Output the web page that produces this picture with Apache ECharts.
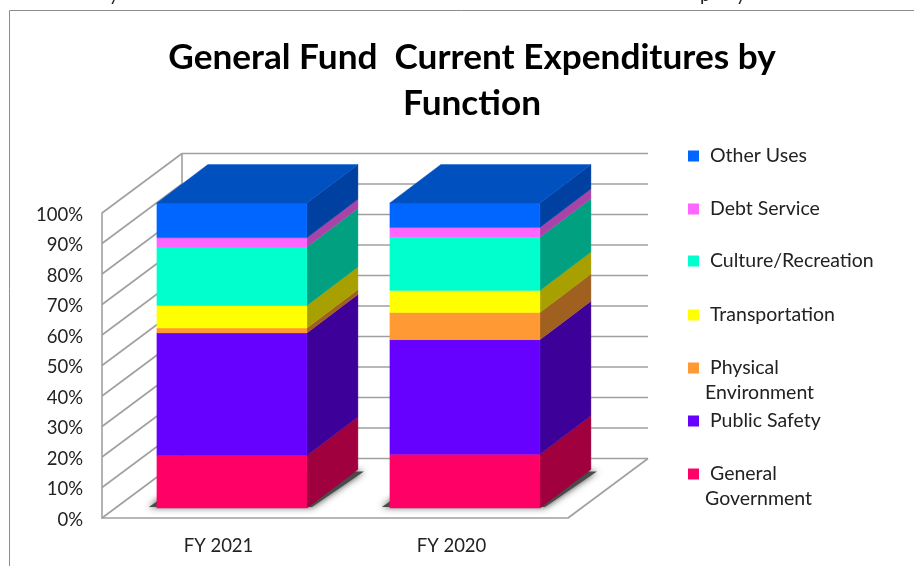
<!DOCTYPE html>
<html><head><meta charset="utf-8">
<style>html,body{margin:0;padding:0;background:#fff}#c{width:914px;height:566px}</style>
<script src="https://cdn.jsdelivr.net/npm/echarts@6/dist/echarts.min.js"></script>
</head><body><div id="c"></div>
<script>
var categories = ['FY 2021', 'FY 2020'];
var tickValues = [0,10,20,30,40,50,60,70,80,90,100];
var generalGovernment = [17.2, 17.6];
var publicSafety = [40.2, 37.6];
var physicalEnvironment = [1.6, 8.9];
var transportation = [7.4, 7.2];
var cultureRecreation = [19.2, 17.5];
var debtService = [3.0, 3.2];
var otherUses = [11.4, 8.0];

var names = ['General Government','Public Safety','Physical Environment','Transportation','Culture/Recreation','Debt Service','Other Uses'];
var values = [generalGovernment, publicSafety, physicalEnvironment, transportation, cultureRecreation, debtService, otherUses];
var front = ['#FF0066','#6600FF','#FF9933','#FFFF00','#00FFCC','#FF66FF','#0066FF'];
var side  = ['#A0003D','#3D0099','#A06020','#A8A000','#00A080','#A844A8','#0040A0'];
var topFace = '#0050C0';
var gridColor = '#A0A0A0';
var textColor = '#222222';

// projection of the 3D box
var wallDX = 80, wallDY = -59.5;
var barOffX = 13.4, barOffY = -10;
var barDX = 51, barDY = -38.5;
var barFrac = 0.644;

function poly(points, fill) {
  return {type:'polygon', shape:{points:points}, style:{fill:fill, stroke:fill, lineWidth:0.4}};
}
function line(x1,y1,x2,y2) {
  return {type:'line', shape:{x1:x1,y1:y1,x2:x2,y2:y2}, style:{stroke:gridColor, lineWidth:1.6, fill:null}};
}
var wallSeries = {
  type:'custom', name:'walls', silent:true, z:1,
  coordinateSystem:'cartesian2d',
  data: tickValues.map(function(v){return [0,v];}),
  encode:{x:0,y:1},
  renderItem:function(params, api){
    var p = api.coord([0, api.value(1)]);
    var cs = params.coordSys;
    var x0 = cs.x, x1 = cs.x + cs.width, y = p[1];
    var kids = [];
    var v = api.value(1);
    if (v === 0) {
      var yBack = y + wallDY;
      var top = cs.y;
      kids.push(line(x0 + wallDX, yBack, x0 + wallDX, top + wallDY));
      kids.push(line(x1, y, x1 + wallDX, yBack));
      kids.push(line(x0, y, x0 + wallDX, yBack));
      kids.push(line(x0 + wallDX, yBack, x1 + wallDX, yBack));
    } else {
      kids.push(line(x0, y, x0 + wallDX, y + wallDY));
      kids.push(line(x0 + wallDX, y + wallDY, x1 + wallDX, y + wallDY));
    }
    return {type:'group', children:kids};
  }
};
var shadowSeries = {
  type:'custom', name:'shadow', silent:true, z:2,
  coordinateSystem:'cartesian2d',
  data: categories.map(function(c,i){return [i,0];}),
  encode:{x:0,y:1},
  renderItem:function(params, api){
    var p = api.coord([api.value(0), 0]);
    var w = api.size([1,0])[0]*barFrac;
    var xl = p[0]-w/2+barOffX, xr = p[0]+w/2+barOffX, y = p[1]+barOffY;
    return {type:'polygon', shape:{points:[
      [xl-8,y-1],[xr+5,y-1],[xr+barDX+6,y+barDY+2],[xl+barDX-8,y+barDY+2]
    ]}, style:{fill:'#4a4a4a', shadowBlur:7, shadowColor:'rgba(40,40,40,0.9)'}};
  }
};
var barSeries = names.map(function(name, s){
  return {
    type:'custom', name:name, silent:true, z:3+s,
    coordinateSystem:'cartesian2d',
    itemStyle:{color:front[s]},
    data: categories.map(function(c,i){
      var start = 0;
      for (var k=0;k<s;k++) start += values[k][i];
      return [i, start, start + values[s][i]];
    }),
    encode:{x:0,y:[1,2]},
    renderItem:function(params, api){
      var i = api.value(0);
      var a = api.coord([i, api.value(1)]);
      var b = api.coord([i, api.value(2)]);
      var w = api.size([1,0])[0]*barFrac;
      var xl = a[0]-w/2+barOffX, xr = a[0]+w/2+barOffX;
      var yb = a[1]+barOffY, yt = b[1]+barOffY;
      var kids = [
        poly([[xr,yb],[xr+barDX,yb+barDY],[xr+barDX,yt+barDY],[xr,yt]], side[s]),
        poly([[xl,yb],[xr,yb],[xr,yt],[xl,yt]], front[s])
      ];
      if (s === names.length-1) {
        kids.push(poly([[xl,yt],[xr,yt],[xr+barDX,yt+barDY],[xl+barDX,yt+barDY]], topFace));
      }
      return {type:'group', children:kids};
    }
  };
});

// legend rows: one legend per row so the uneven spacing can be kept
var legendRows = [
  {name:'Other Uses', label:'Other Uses', top:141},
  {name:'Debt Service', label:'Debt Service', top:194},
  {name:'Culture/Recreation', label:'Culture/Recreation', top:246},
  {name:'Transportation', label:'Transportation', top:300},
  {name:'Physical Environment', label:'Physical', top:353},
  {name:'Public Safety', label:'Public Safety', top:406},
  {name:'General Government', label:'General', top:459}
];
var chart = echarts.init(document.getElementById('c'), null, {renderer:'canvas'});
var axisFont = {fontFamily:'Lato', fontSize:18.5, color:textColor};
var legendFont = {fontFamily:'Lato', fontSize:19.5, color:textColor};
chart.setOption({
  animation:false,
  backgroundColor:'#fff',
  title:{
    text:'General Fund  Current Expenditures by\nFunction',
    left:467, textAlign:'center', top:30,
    textStyle:{fontFamily:'Lato', fontWeight:'bold', fontSize:35.2, lineHeight:46, color:'#000'}
  },
  grid:{left:102, top:213, width:466, height:305, containLabel:false},
  xAxis:{type:'category', data:categories,
    axisLine:{lineStyle:{color:gridColor, width:1.6}}, axisTick:{show:false},
    axisLabel:Object.assign({margin:19}, axisFont)},
  yAxis:{type:'value', min:0, max:100, interval:10,
    axisLine:{show:true, lineStyle:{color:gridColor, width:1.6}}, axisTick:{show:false},
    splitLine:{show:false},
    axisLabel:Object.assign({margin:19, formatter:'{t|{value}%}',
      rich:{t:{fontFamily:'Lato', fontSize:18.5, color:textColor, padding:[4,0,0,0]}}}, axisFont)},
  legend: legendRows.map(function(r){
    return {data:[r.name], left:683, top:r.top, itemWidth:11, itemHeight:11, itemGap:0, selectedMode:false,
      icon:'rect',
      formatter:function(){return r.label;},
      textStyle:Object.assign({padding:[0,0,0,6]}, legendFont)};
  }),
  series:[wallSeries, shadowSeries].concat(barSeries),
  graphic:[
    {type:'polyline', silent:true, z:0, shape:{points:[[9.5,566],[9.5,10.5],[914,10.5]]},
      style:{stroke:'#8c8c8c', lineWidth:1, fill:null}},
    {type:'text', silent:true, x:705, y:383, style:{text:'Environment', font:'19.5px Lato', fill:textColor}},
    {type:'text', silent:true, x:705, y:489, style:{text:'Government', font:'19.5px Lato', fill:textColor}},
    {type:'text', silent:true, x:109, y:-15, style:{text:'y', font:'19px Lato', fill:textColor}},
    {type:'text', silent:true, x:700, y:-15, style:{text:'p', font:'19px Lato', fill:textColor}},
    {type:'text', silent:true, x:736, y:-15, style:{text:'y', font:'19px Lato', fill:textColor}}
  ]
});
</script></body></html>
